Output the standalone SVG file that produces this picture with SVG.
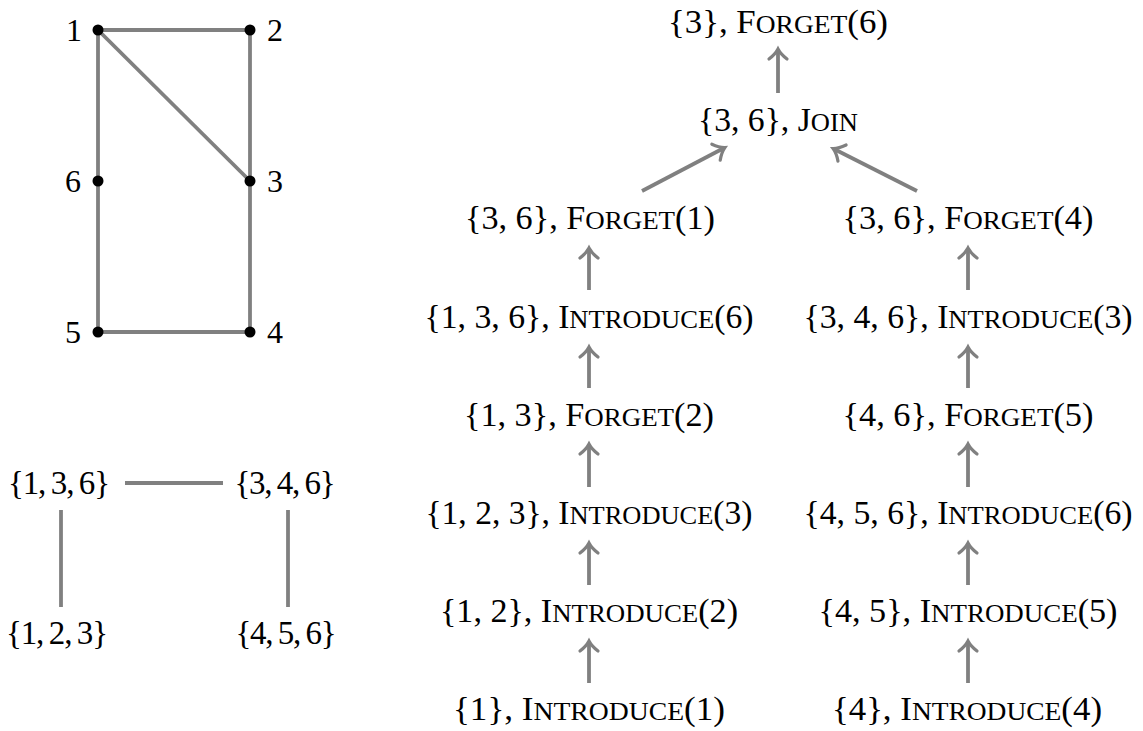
<svg xmlns="http://www.w3.org/2000/svg" width="1143" height="731" viewBox="0 0 1143 731">
<style>
text{font-family:"Liberation Serif","Times New Roman",serif;font-size:33px;fill:#000;text-anchor:middle}
.sc{font-size:26px}
.lbl{font-size:32px}
.e{stroke:#808080;stroke-width:3.8;fill:none}
.a{stroke:#808080;stroke-width:3.8;fill:none;marker-end:url(#ah)}
</style>
<defs>
<marker id="ah" markerUnits="userSpaceOnUse" orient="auto" markerWidth="30" markerHeight="30" viewBox="-15 -15 30 30" refX="0" refY="0" overflow="visible">
<path d="M -9,-9 Q -4,-2.5 1,0 Q -4,2.5 -9,9" fill="none" stroke="#808080" stroke-width="3.2" stroke-linecap="round"/>
</marker>
</defs>
<rect width="1143" height="731" fill="#fff"/>

<g id="graph-edges">
<line class="e" x1="98" y1="30" x2="250" y2="30"/>
<line class="e" x1="98" y1="30" x2="250" y2="181"/>
<line class="e" x1="98" y1="30" x2="98" y2="332"/>
<line class="e" x1="250" y1="30" x2="250" y2="332"/>
<line class="e" x1="98" y1="332" x2="250" y2="332"/>
</g>
<g id="v1"><circle cx="98" cy="30" r="5.5"/><text class="lbl" x="74" y="41">1</text></g>
<g id="v2"><circle cx="250" cy="30" r="5.5"/><text class="lbl" x="275" y="41">2</text></g>
<g id="v3"><circle cx="250" cy="181" r="5.5"/><text class="lbl" x="275" y="192">3</text></g>
<g id="v6"><circle cx="98" cy="181" r="5.5"/><text class="lbl" x="73" y="192">6</text></g>
<g id="v5"><circle cx="98" cy="332" r="5.5"/><text class="lbl" x="73" y="343">5</text></g>
<g id="v4"><circle cx="250" cy="332" r="5.5"/><text class="lbl" x="275" y="343">4</text></g>

<g id="td-edges">
<line class="e" x1="125" y1="483" x2="223" y2="483"/>
<line class="e" x1="61" y1="510" x2="61" y2="607"/>
<line class="e" x1="288" y1="510" x2="288" y2="607"/>
</g>
<g id="b136"><text x="59" y="494" textLength="102">{1,&#8201;3,&#8201;6}</text></g>
<g id="b346"><text x="285" y="494" textLength="101">{3,&#8201;4,&#8201;6}</text></g>
<g id="b123"><text x="57" y="644" textLength="102">{1,&#8201;2,&#8201;3}</text></g>
<g id="b456"><text x="286" y="644" textLength="101">{4,&#8201;5,&#8201;6}</text></g>

<g id="tree-arrows">
<line class="a" x1="778" y1="93" x2="778" y2="50"/>
<line class="a" x1="642" y1="191" x2="724" y2="148"/>
<line class="a" x1="917" y1="191" x2="834" y2="149"/>
<line class="a" x1="589" y1="290" x2="589" y2="249"/>
<line class="a" x1="589" y1="388" x2="589" y2="348"/>
<line class="a" x1="589" y1="487" x2="589" y2="445"/>
<line class="a" x1="589" y1="585" x2="589" y2="544"/>
<line class="a" x1="589" y1="683" x2="589" y2="642"/>
<line class="a" x1="968" y1="290" x2="968" y2="249"/>
<line class="a" x1="968" y1="388" x2="968" y2="348"/>
<line class="a" x1="968" y1="487" x2="968" y2="445"/>
<line class="a" x1="968" y1="585" x2="968" y2="544"/>
<line class="a" x1="968" y1="683" x2="968" y2="642"/>
</g>

<g id="n-forget6"><text x="778" y="33" textLength="220" lengthAdjust="spacingAndGlyphs">{3}, F<tspan class="sc">ORGET</tspan>(6)</text></g>
<g id="n-join"><text x="778" y="131" textLength="160" lengthAdjust="spacingAndGlyphs">{3, 6}, J<tspan class="sc">OIN</tspan></text></g>
<g id="n-forget1"><text x="590" y="229" textLength="250" lengthAdjust="spacingAndGlyphs">{3, 6}, F<tspan class="sc">ORGET</tspan>(1)</text></g>
<g id="n-forget4"><text x="968" y="229" textLength="251" lengthAdjust="spacingAndGlyphs">{3, 6}, F<tspan class="sc">ORGET</tspan>(4)</text></g>
<g id="n-intro6a"><text x="589" y="328" textLength="329" lengthAdjust="spacingAndGlyphs">{1, 3, 6}, I<tspan class="sc">NTRODUCE</tspan>(6)</text></g>
<g id="n-intro3a"><text x="968" y="328" textLength="329" lengthAdjust="spacingAndGlyphs">{3, 4, 6}, I<tspan class="sc">NTRODUCE</tspan>(3)</text></g>
<g id="n-forget2"><text x="589" y="426" textLength="250" lengthAdjust="spacingAndGlyphs">{1, 3}, F<tspan class="sc">ORGET</tspan>(2)</text></g>
<g id="n-forget5"><text x="968" y="426" textLength="251" lengthAdjust="spacingAndGlyphs">{4, 6}, F<tspan class="sc">ORGET</tspan>(5)</text></g>
<g id="n-intro3b"><text x="589" y="524" textLength="327" lengthAdjust="spacingAndGlyphs">{1, 2, 3}, I<tspan class="sc">NTRODUCE</tspan>(3)</text></g>
<g id="n-intro6b"><text x="968" y="524" textLength="329" lengthAdjust="spacingAndGlyphs">{4, 5, 6}, I<tspan class="sc">NTRODUCE</tspan>(6)</text></g>
<g id="n-intro2"><text x="589" y="622" textLength="298" lengthAdjust="spacingAndGlyphs">{1, 2}, I<tspan class="sc">NTRODUCE</tspan>(2)</text></g>
<g id="n-intro5"><text x="968" y="622" textLength="299" lengthAdjust="spacingAndGlyphs">{4, 5}, I<tspan class="sc">NTRODUCE</tspan>(5)</text></g>
<g id="n-intro1"><text x="589" y="720" textLength="272" lengthAdjust="spacingAndGlyphs">{1}, I<tspan class="sc">NTRODUCE</tspan>(1)</text></g>
<g id="n-intro4"><text x="967" y="720" textLength="270" lengthAdjust="spacingAndGlyphs">{4}, I<tspan class="sc">NTRODUCE</tspan>(4)</text></g>
</svg>
